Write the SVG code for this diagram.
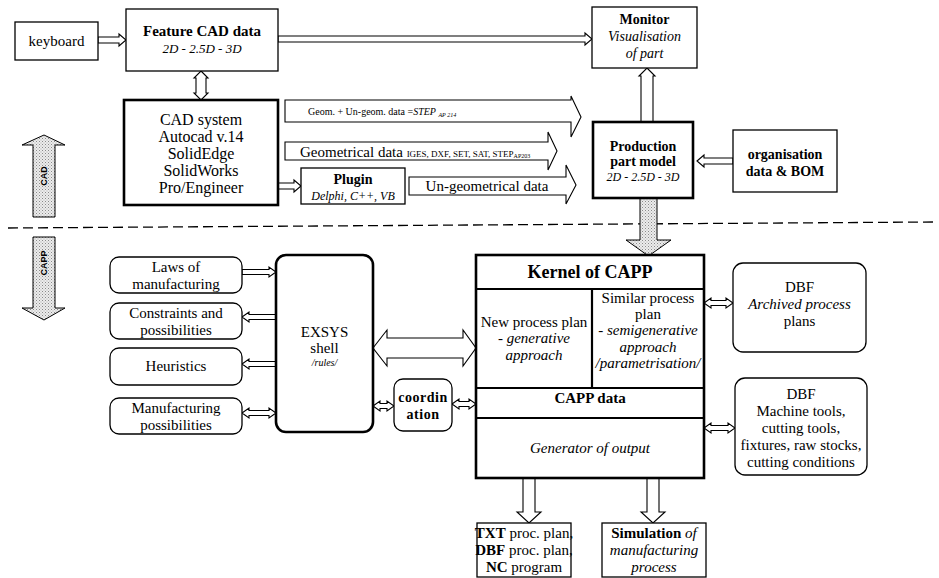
<svg xmlns="http://www.w3.org/2000/svg" width="939" height="578" viewBox="0 0 939 578">
<defs>
<pattern id="dots" width="3" height="3" patternUnits="userSpaceOnUse"><rect width="3" height="3" fill="#ececec"/><rect x="0" y="0" width="1" height="1" fill="#8a8a8a"/><rect x="1.5" y="1.5" width="1" height="1" fill="#a8a8a8"/></pattern>
<style>
text{font-family:"Liberation Serif","Times New Roman",serif;font-size:15px;fill:#000;text-anchor:middle}
.b{font-weight:bold}
.i{font-style:italic}
.box{fill:#fff;stroke:#000;stroke-width:1.3}
.thick{fill:#fff;stroke:#000;stroke-width:2.6}
.ar{fill:#fff;stroke:#000;stroke-width:1.1;stroke-linejoin:miter}
.sh{fill:url(#dots);stroke:#000;stroke-width:1}
.sm{font-family:"Liberation Sans",Arial,sans-serif;font-size:9px;font-weight:bold}
</style>
</defs>
<rect width="939" height="578" fill="#fff"/>

<g id="connectors">
<line x1="8" y1="228" x2="935" y2="222" stroke="#000" stroke-width="1.3" stroke-dasharray="10,5"/>
<polygon class="ar" points="98,37 119,37 119,34 126,40 119,46 119,43 98,43"/>
<polygon class="ar" points="278,36 585,36 585,33 592,39 585,45 585,42 278,42"/>
<polygon class="ar" points="201,71 208,78 206,78 206,93 208,93 201,100 194,93 196,93 196,78 194,78"/>
<polygon class="ar" points="647,68 655,76 653,76 653,122 641,122 641,76 639,76"/>
<polygon class="ar" points="697,161 704,155 704,158 733,158 733,164 704,164 704,167"/>
<polygon class="ar" points="278,183 294,183 294,180 301,186 294,192 294,189 278,189"/>
<polygon class="ar" points="285,100 571,100 571,96 581,117 571,137 571,122 285,122"/>
<polygon class="ar" points="285,142 548,142 548,132 557,151 548,170 548,160 285,160"/>
<polygon class="ar" points="409,177 566,177 566,165 576,185 566,204 566,195 409,195"/>
<polygon class="sh" points="640,198 657,198 657,240 671,240 648.5,256 626,240 640,240"/>
<polygon class="sh" points="44,135 65,145 55,145 55,217 33,217 33,145 22,145"/>
<polygon class="sh" points="33,237 55,237 55,308 65,308 44,320 22,308 33,308"/>
<polygon class="ar" points="242,269.5 269,269.5 269,267 276,272 269,277 269,274.5 242,274.5"/>
<polygon class="ar" points="242,317 249,312 249,314.5 276,314.5 276,319.5 249,319.5 249,322"/>
<polygon class="ar" points="242,364 249,359 249,361.5 276,361.5 276,366.5 249,366.5 249,369"/>
<polygon class="ar" points="242,413 249,408 249,410.5 269,410.5 269,408 276,413 269,418 269,415.5 249,415.5 249,418"/>
<polygon class="ar" points="373,406 380,401 380,403.5 387,403.5 387,401 394,406 387,411 387,408.5 380,408.5 380,411"/>
<polygon class="ar" points="452,404 459,399 459,401.5 469,401.5 469,399 476,404 469,409 469,406.5 459,406.5 459,409"/>
<polygon class="ar" points="704,303 711,298 711,300.5 726,300.5 726,298 733,303 726,308 726,305.5 711,305.5 711,308"/>
<polygon class="ar" points="704,428 711,423 711,425.5 728,425.5 728,423 735,428 728,433 728,430.5 711,430.5 711,433"/>
<polygon class="ar" points="373,348 387,330 387,338 463,338 463,330 476,348 463,366 463,358 387,358 387,366"/>
<polygon class="ar" points="523,478 535,478 535,512 541,512 529,523 517,512 523,512"/>
<polygon class="ar" points="647,478 659,478 659,512 665,512 653,523 641,512 647,512"/>
<text x="44" y="176" class="sm" transform="rotate(-90 44 176)" dy="3">CAD</text>
<text x="44" y="263" class="sm" transform="rotate(-90 44 263)" dy="3">CAPP</text>
<text x="308" y="115" style="font-size:10px;text-anchor:start">Geom. + Un-geom. data =<tspan class="i">STEP</tspan> <tspan class="i" style="font-size:6px" dy="2">AP 214</tspan></text>
<text x="300" y="157" style="text-anchor:start">Geometrical data <tspan style="font-size:9px">IGES, DXF, SET, SAT, STEP</tspan><tspan style="font-size:6px" dy="1">AP203</tspan></text>
<text x="487" y="191">Un-geometrical data</text>
</g>

<g id="keyboard"><rect class="box" x="15" y="22" width="83" height="38"/><text x="56.5" y="46">keyboard</text></g>
<g id="feature-cad"><rect class="box" x="126" y="9" width="152" height="62"/><text x="202" y="36" class="b">Feature CAD data</text><text x="202" y="53" class="i" style="font-size:13px">2D - 2.5D - 3D</text></g>
<g id="monitor"><rect class="box" x="592" y="7" width="105" height="61"/><text x="644.5" y="24" class="b" style="font-size:14px">Monitor</text><text x="644.5" y="41" class="i" style="font-size:14px">Visualisation</text><text x="644.5" y="58" class="i" style="font-size:14px">of part</text></g>
<g id="cad-system"><rect class="thick" x="124" y="100" width="154" height="105"/><text x="201" y="125" style="font-size:16px">CAD system</text><text x="201" y="142" style="font-size:16px">Autocad v.14</text><text x="201" y="159" style="font-size:16px">SolidEdge</text><text x="201" y="176" style="font-size:16px">SolidWorks</text><text x="201" y="193" style="font-size:16px">Pro/Engineer</text></g>
<g id="plugin"><rect class="box" x="301" y="168" width="104" height="36"/><text x="353" y="184" class="b" style="font-size:14px">Plugin</text><text x="353" y="200" class="i" style="font-size:12px">Delphi, C++, VB</text></g>
<g id="production"><rect class="thick" x="593" y="122" width="100" height="76"/><text x="643" y="151" class="b" style="font-size:14px">Production</text><text x="643" y="166" class="b" style="font-size:14px">part model</text><text x="643" y="181" class="i" style="font-size:12px">2D - 2.5D - 3D</text></g>
<g id="organisation"><rect class="box" x="733" y="130" width="104" height="62"/><text x="785" y="159" class="b" style="font-size:14px">organisation</text><text x="785" y="176" class="b" style="font-size:14px">data &amp; BOM</text></g>

<g id="laws"><rect class="box" x="110" y="257" width="132" height="36" rx="9"/><text x="176" y="272">Laws of</text><text x="176" y="289">manufacturing</text></g>
<g id="constraints"><rect class="box" x="110" y="303" width="132" height="36" rx="9"/><text x="176" y="318">Constraints and</text><text x="176" y="335">possibilities</text></g>
<g id="heuristics"><rect class="box" x="110" y="348" width="132" height="37" rx="9"/><text x="176" y="371">Heuristics</text></g>
<g id="manufacturing"><rect class="box" x="110" y="398" width="132" height="36" rx="9"/><text x="176" y="413">Manufacturing</text><text x="176" y="430">possibilities</text></g>
<g id="exsys"><rect class="thick" x="276" y="255" width="97" height="177" rx="10"/><text x="324.5" y="337">EXSYS</text><text x="324.5" y="353">shell</text><text x="324.5" y="366" class="i" style="font-size:10px">/rules/</text></g>
<g id="coordination"><rect class="box" x="394" y="379" width="58" height="52" rx="9"/><text x="423" y="402" class="b" style="font-size:14px;letter-spacing:0.5px">coordin</text><text x="423" y="419" class="b" style="font-size:14px;letter-spacing:0.5px">ation</text></g>

<g id="kernel">
<rect class="thick" x="476" y="255" width="228" height="223"/>
<line x1="476" y1="289" x2="704" y2="289" stroke="#000" stroke-width="2.2"/>
<line x1="592" y1="289" x2="592" y2="388" stroke="#000" stroke-width="2.2"/>
<line x1="476" y1="388" x2="704" y2="388" stroke="#000" stroke-width="2.2"/>
<line x1="476" y1="418" x2="704" y2="418" stroke="#000" stroke-width="2.2"/>
<text x="590" y="278" class="b" style="font-size:18px">Kernel of CAPP</text>
<text x="534" y="327">New process plan</text>
<text x="534" y="343" class="i">- generative</text>
<text x="534" y="360" class="i">approach</text>
<text x="648" y="303">Similar process</text>
<text x="648" y="319">plan</text>
<text x="648" y="335" class="i">- semigenerative</text>
<text x="648" y="352" class="i">approach</text>
<text x="648" y="368" class="i">/parametrisation/</text>
<text x="590" y="403" class="b">CAPP data</text>
<text x="590" y="453" class="i">Generator of output</text>
</g>

<g id="dbf-archived"><rect class="box" x="733" y="263" width="133" height="89" rx="10"/><text x="799.5" y="292">DBF</text><text x="799.5" y="309" class="i">Archived process</text><text x="799.5" y="326">plans</text></g>
<g id="dbf-machine"><rect class="box" x="735" y="378" width="132" height="97" rx="10"/><text x="801" y="399">DBF</text><text x="801" y="416">Machine tools,</text><text x="801" y="433">cutting tools,</text><text x="801" y="450">fixtures, raw stocks,</text><text x="801" y="467">cutting conditions</text></g>
<g id="txt-output"><rect class="box" x="477" y="523" width="94" height="54"/><text x="524" y="538"><tspan class="b">TXT</tspan> proc. plan,</text><text x="524" y="555"><tspan class="b">DBF</tspan> proc. plan,</text><text x="524" y="572"><tspan class="b">NC</tspan> program</text></g>
<g id="simulation"><rect class="box" x="602" y="523" width="104" height="54"/><text x="654" y="538"><tspan class="b">Simulation</tspan> <tspan class="i">of</tspan></text><text x="654" y="555" class="i">manufacturing</text><text x="654" y="572" class="i">process</text></g>
</svg>
